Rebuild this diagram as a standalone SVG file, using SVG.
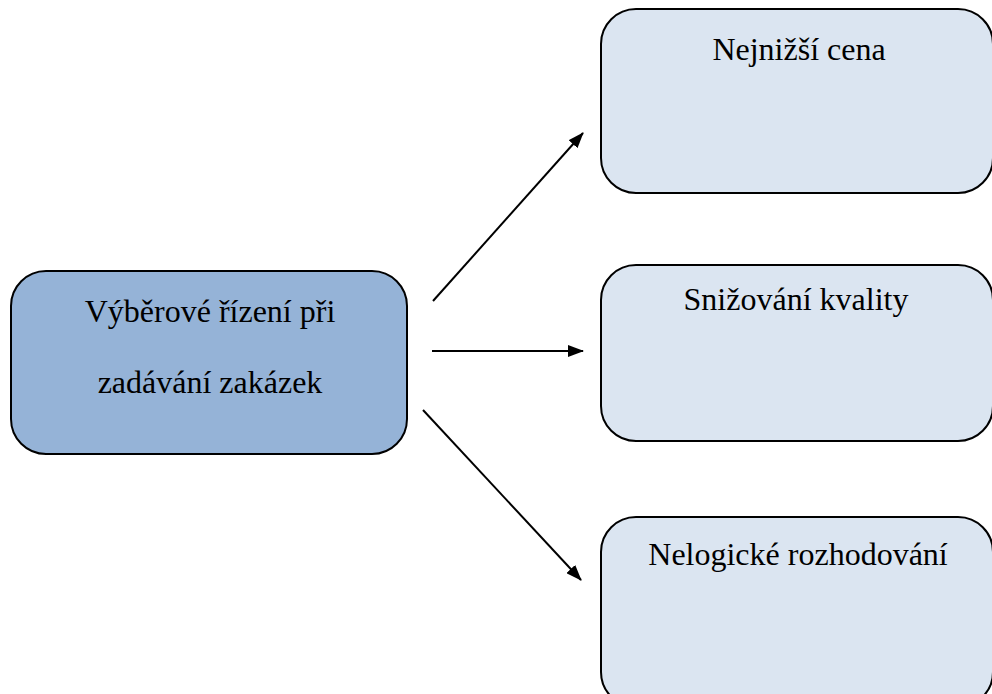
<svg xmlns="http://www.w3.org/2000/svg" width="992" height="694" viewBox="0 0 992 694">
<style>
.box{stroke:#000;stroke-width:2}
.main{fill:#95B3D7}
.sub{fill:#DBE5F1}
.t{font-family:'Liberation Serif','Times New Roman','DejaVu Serif',serif;font-size:32px;fill:#000;text-anchor:middle}
.conn{stroke:#000;stroke-width:2;fill:none;marker-end:url(#ah)}
</style>
<defs>
<marker id="ah" markerWidth="16" markerHeight="12" refX="15" refY="6" orient="auto" markerUnits="userSpaceOnUse" viewBox="0 0 16 12">
<path d="M0,0 L16,6 L0,12 z" fill="#000"/>
</marker>
</defs>
<rect width="992" height="694" fill="#fff"/>
<g id="node-main">
<rect class="box main" x="11" y="271" width="396" height="183" rx="35" ry="35"/>
<text class="t" font-family="Liberation Serif, serif" x="210" y="322">Výběrové řízení při</text>
<text class="t" font-family="Liberation Serif, serif" x="210" y="393">zadávání zakázek</text>
</g>
<g id="node-cena">
<rect class="box sub" x="601" y="9" width="392" height="184" rx="35" ry="35"/>
<text class="t" font-family="Liberation Serif, serif" x="799" y="60">Nejnižší cena</text>
</g>
<g id="node-kvalita">
<rect class="box sub" x="601" y="265" width="392" height="176" rx="35" ry="35"/>
<text class="t" font-family="Liberation Serif, serif" x="796" y="310">Snižování kvality</text>
</g>
<g id="node-rozhodovani">
<rect class="box sub" x="601" y="517" width="392" height="190" rx="35" ry="35"/>
<text class="t" font-family="Liberation Serif, serif" x="798" y="565">Nelogické rozhodování</text>
</g>
<g id="connectors">
<line class="conn" x1="433" y1="301" x2="583" y2="133"/>
<line class="conn" x1="432" y1="351" x2="583" y2="351"/>
<line class="conn" x1="423" y1="410" x2="581" y2="580"/>
</g>
</svg>
